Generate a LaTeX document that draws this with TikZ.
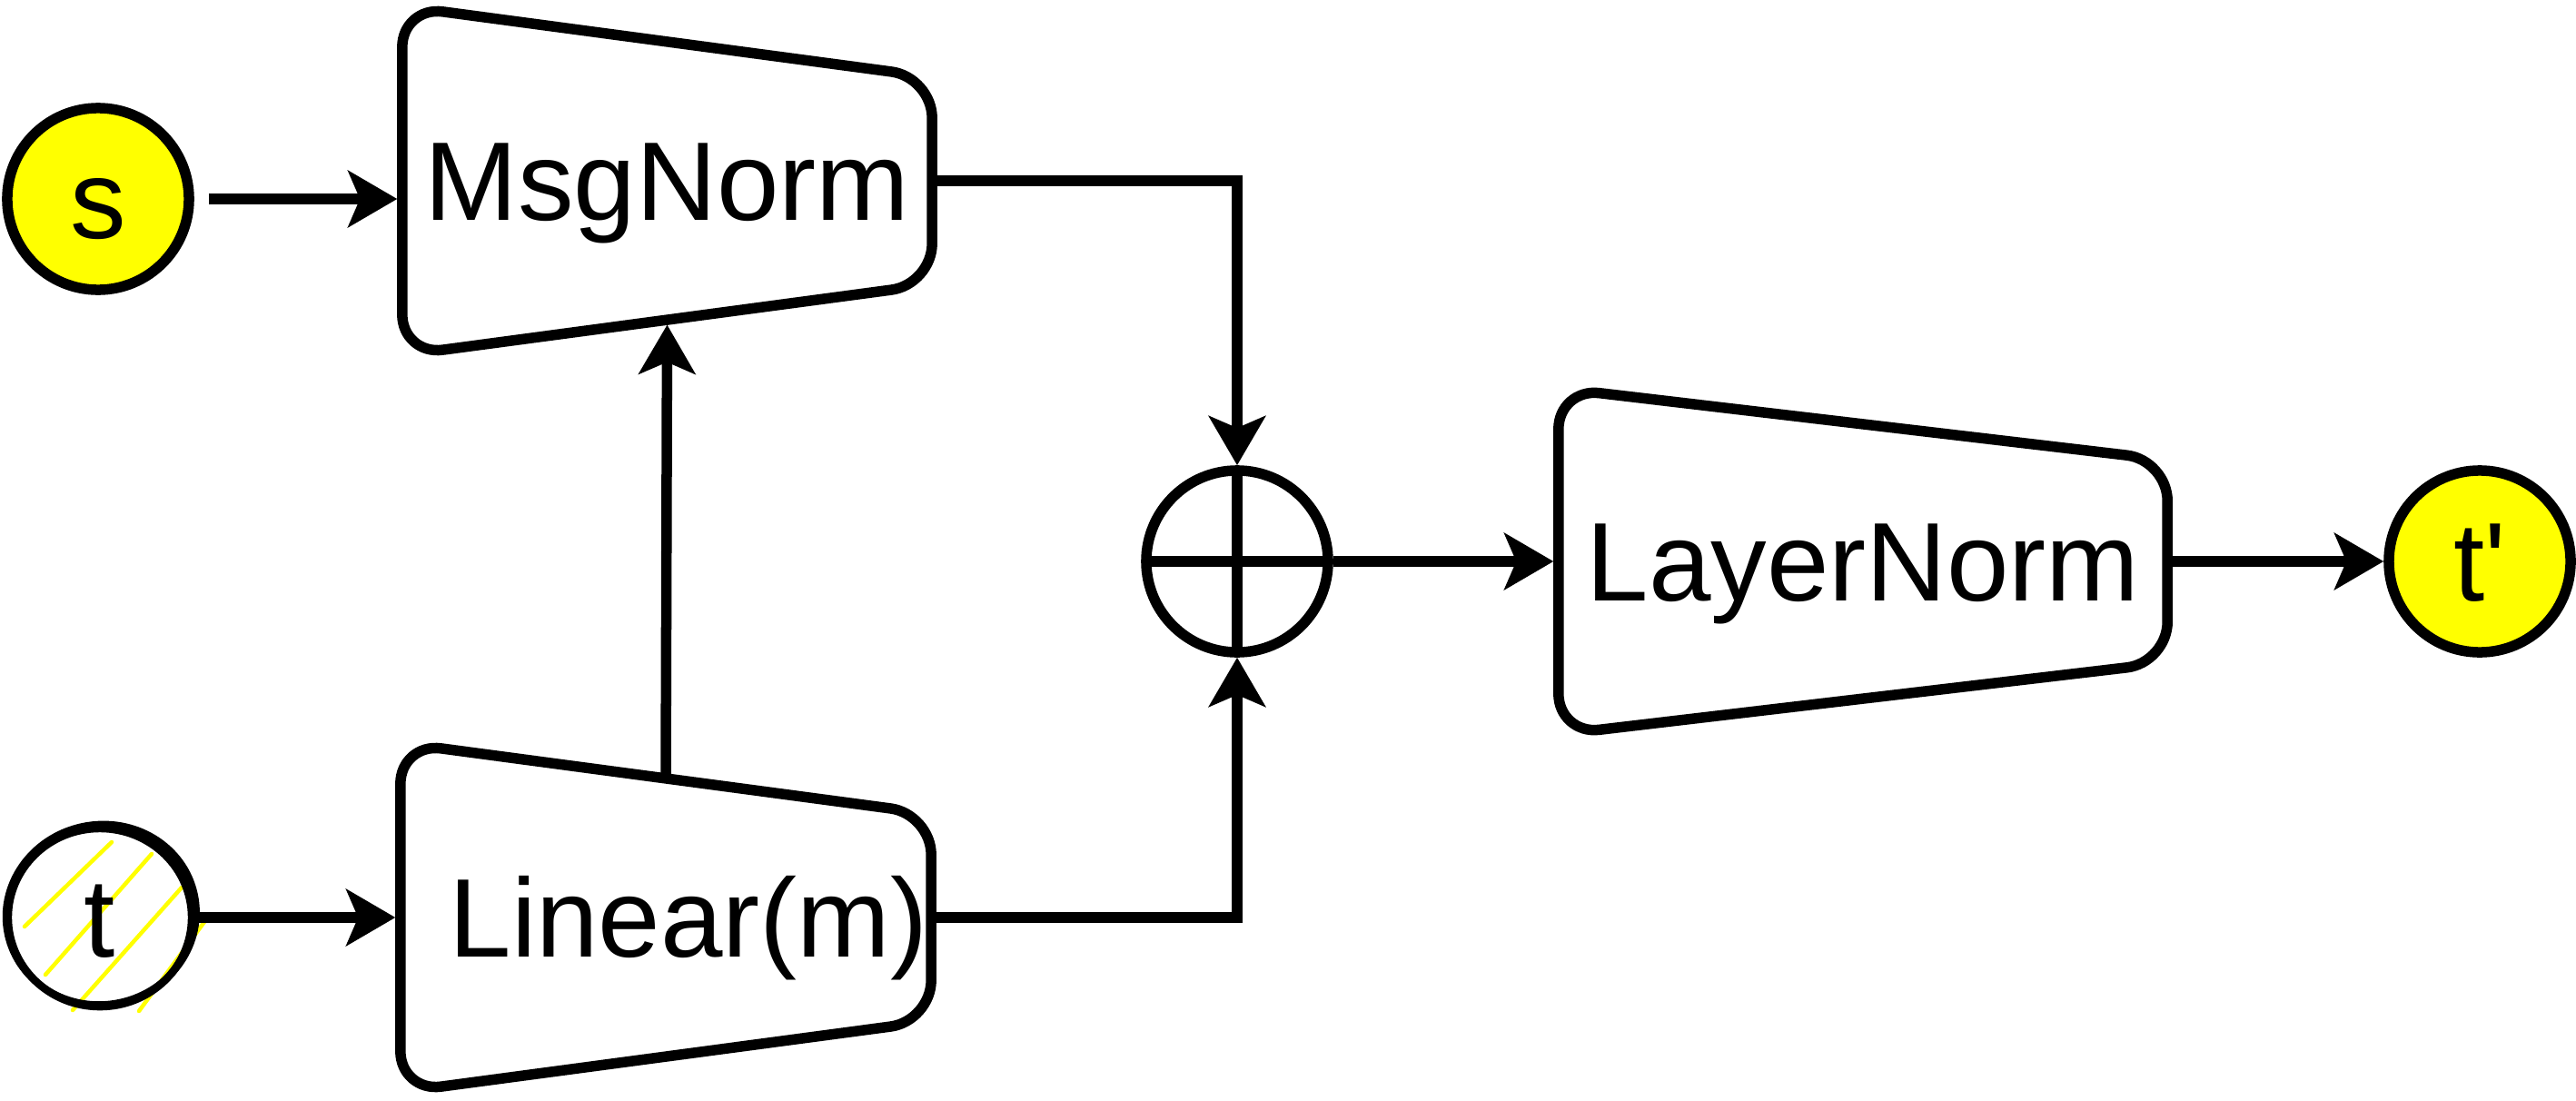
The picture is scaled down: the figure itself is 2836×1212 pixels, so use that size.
\documentclass[tikz,border=0pt]{standalone}
\usepackage{fontspec}
\setmainfont{Liberation Sans}[Ligatures=TeXOff]
\usetikzlibrary{arrows.meta}
\definecolor{jaune}{HTML}{FFFF00}

% contour trapeze autour d'un bloc : #1 nom, #2 retrait du cote droit
\newcommand{\trapeze}[2]{%
	\draw[contour] ([yshift=#2]#1.north west) -- ([yshift=-#2]#1.north east)
		-- ([yshift=#2]#1.south east) -- ([yshift=-#2]#1.south west) -- cycle;}

\begin{document}
\begin{tikzpicture}[x=0.01cm, y=-0.01cm]
			\tikzset{texte/.style={font=\fontsize{35}{42}\selectfont, text height=25pt, text depth=0pt},
			noeud/.style={texte, circle, draw=black, fill=jaune, line width=0.115cm, minimum size=2cm, inner sep=0pt},
			bloc/.style={texte, rectangle, inner sep=0pt, outer sep=0pt, minimum width=#1},
			somme/.style={circle, draw=black, line width=0.115cm, minimum size=2cm, inner sep=0pt,
				path picture={\draw[line width=0.115cm] (path picture bounding box.north) -- (path picture bounding box.south)
					(path picture bounding box.west) -- (path picture bounding box.east);}},
			contour/.style={line width=0.115cm, rounded corners=0.45cm, line join=round},
			fleche/.style={line width=0.115cm, -{Stealth[length=0.54cm, width=0.62cm, inset=0.13cm]}},
			bord/.style={shorten >=0.055cm}};

			\useasboundingbox (0, 0) rectangle (2836, 1212);

			\node[noeud] (s) at (108, 219) {s};
			\node[noeud] (tp) at (2730, 618) {t'};
			\node[somme] (plus) at (1362, 618) {};

			\node[bloc=5.83cm, minimum height=3.06cm] (msg) at (734.5, 199) {MsgNorm};
			\node[bloc=5.84cm, minimum height=3.06cm] (lin) at (733, 1010) {\hspace*{0.5cm}Linear(m)};
			\node[bloc=6.70cm, minimum height=3.02cm] (ln) at (2051, 618) {LayerNorm};

			\trapeze{msg}{0.39cm}
			\trapeze{lin}{0.39cm}
			\trapeze{ln}{0.395cm}

			% t : cercle dessine a main levee
			\begin{scope}[jaune, line width=0.045cm, line cap=round]
				\draw (27, 1020) -- (123, 927);
				\draw (50, 1073) -- (167, 940);
				\draw (80, 1112) -- (200, 977);
				\draw (153, 1113) -- (230, 1008);
			\end{scope}
			\node[texte, circle, line width=0.115cm, minimum size=2cm, inner sep=0pt] (t) at (110, 1010) {t};
			\draw[line width=0.085cm] (t.center) ellipse [x radius=1.01cm, y radius=0.98cm];
			\draw[line width=0.075cm, rotate around={12:(t.center)}] ([shift={(0.02cm, 0.03cm)}]t.center) ellipse [x radius=1.05cm, y radius=0.99cm];

			\draw[fleche, bord] ([xshift=0.16cm]s.east) -- (s.east -| msg.west);
			\draw[fleche, bord] (t) -- (lin);
			\draw[fleche, bord] (lin.north) -- (msg.south);
			\draw[fleche] (msg.east) -| (plus);
			\draw[fleche] (lin.east) -| (plus);
			\draw[fleche, bord] (plus) -- (ln);
			\draw[fleche] (ln) -- (tp);
		\end{tikzpicture}
\end{document}
